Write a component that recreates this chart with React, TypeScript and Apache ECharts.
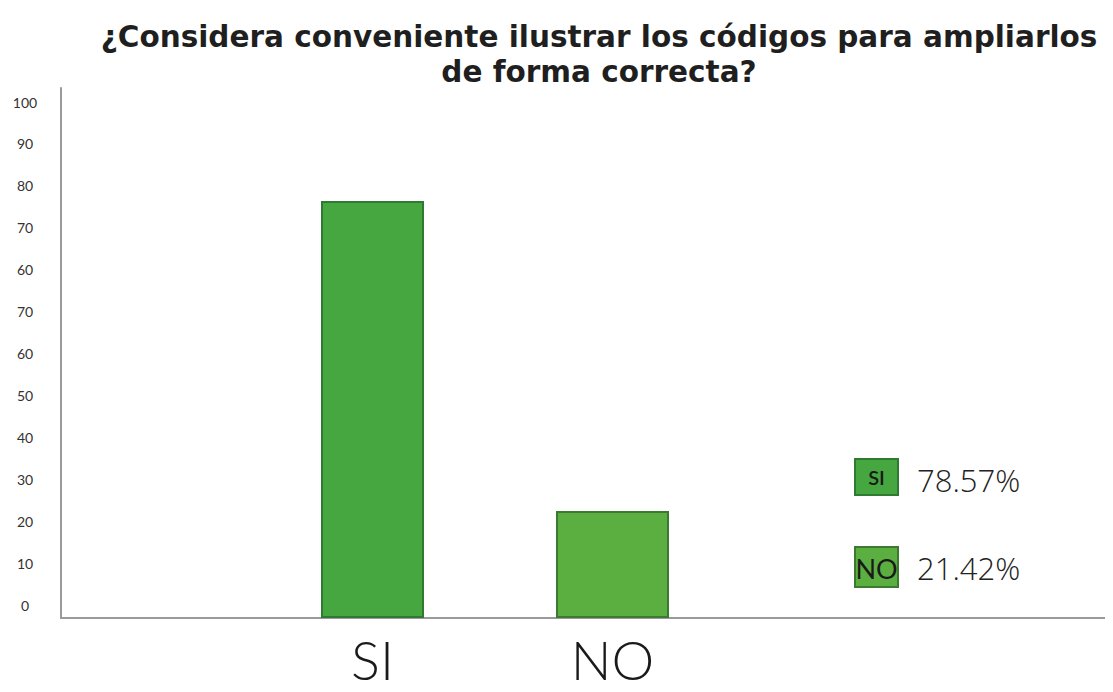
import React, { useEffect, useRef } from "react";
import * as echarts from "echarts";

const titleText = "¿Considera conveniente ilustrar los códigos para ampliarlos\nde forma correcta?";
const categories = ["SI", "NO"];
const barValues = [78.7, 20.2];
const tickLabels = ["0", "10", "20", "30", "40", "50", "60", "70", "60", "70", "80", "90", "100"];
const legendNames = ["SI", "NO"];
const legendPercents = ["78.57%", "21.42%"];

const FONT = "Lato, 'DejaVu Sans', sans-serif";
const TITLE_FONT = "'DejaVu Sans', sans-serif";
const PCT_FONT = "'Open Sans', Lato, sans-serif";
const fills = ["#46a640", "#5aaf40"];
const borders = ["#2f7a33", "#3b7a30"];

export default function App() {
  const ref = useRef<HTMLDivElement>(null);
  useEffect(() => {
    if (!ref.current) return;
    const chart = echarts.init(ref.current, undefined, { renderer: "svg" });
    const axisGray = "#9a9a9a";
    const option: any = {
      animation: false,
      backgroundColor: "#ffffff",
      title: {
        text: titleText,
        left: 594,
        top: 14,
        textAlign: "center",
        textStyle: {
          fontFamily: TITLE_FONT,
          fontSize: 29.5,
          fontWeight: "bold",
          color: "#1f1f1f",
          lineHeight: 35,
        },
      },
      grid: [
        { left: 61, right: 0, top: 88, bottom: 74 },
        { left: 252.5, width: 480, top: 88, bottom: 74 },
        { left: 62, width: 1, top: 102, bottom: 87 },
      ],
      xAxis: [
        {
          gridIndex: 0,
          type: "category",
          data: [""],
          axisLine: { show: true, lineStyle: { color: axisGray, width: 2 } },
          axisTick: { show: false },
          axisLabel: { show: false },
        },
        {
          gridIndex: 1,
          type: "category",
          data: categories,
          axisLine: { show: false },
          axisTick: { show: false },
          axisLabel: {
            show: true,
            fontFamily: FONT,
            fontSize: 54,
            lineHeight: 54,
            fontWeight: 300,
            color: "#1a1a1a",
            margin: 14,
          },
        },
        {
          gridIndex: 1,
          type: "category",
          data: categories,
          show: false,
        },
        {
          gridIndex: 2,
          type: "value",
          show: false,
        },
      ],
      yAxis: [
        {
          gridIndex: 0,
          type: "value",
          min: 0,
          max: 100,
          axisLine: { show: true, lineStyle: { color: axisGray, width: 2 } },
          axisTick: { show: false },
          axisLabel: { show: false },
          splitLine: { show: false },
        },
        {
          gridIndex: 1,
          type: "value",
          min: 0,
          max: 100,
          show: false,
          splitLine: { show: false },
        },
        {
          gridIndex: 2,
          type: "category",
          data: tickLabels,
          boundaryGap: false,
          axisLine: { show: false },
          axisTick: { show: false },
          splitLine: { show: false },
          axisLabel: {
            show: true,
            interval: 0,
            align: "center",
            margin: 37,
            fontFamily: FONT,
            fontSize: 14,
            color: "#333333",
          },
        },
      ],
      series: [
        {
          type: "bar",
          xAxisIndex: 1,
          yAxisIndex: 1,
          barWidth: 103,
          data: [barValues[0], "-"],
          itemStyle: { color: fills[0], borderColor: borders[0], borderWidth: 2 },
        },
        {
          type: "bar",
          xAxisIndex: 2,
          yAxisIndex: 1,
          barWidth: 113,
          data: ["-", barValues[1]],
          itemStyle: { color: fills[1], borderColor: borders[1], borderWidth: 2 },
        },
      ],
      graphic: [
        {
          type: "rect",
          shape: { x: 855, y: 459, width: 43, height: 36 },
          style: { fill: fills[0], stroke: borders[0], lineWidth: 2 },
        },
        {
          type: "text",
          x: 876.5,
          y: 477,
          style: {
            text: legendNames[0],
            font: `600 20px ${FONT}`,
            fill: "#1a1a1a",
            align: "center",
            verticalAlign: "middle",
          },
        },
        {
          type: "rect",
          shape: { x: 855, y: 547, width: 43, height: 40 },
          style: { fill: fills[1], stroke: borders[1], lineWidth: 2 },
        },
        {
          type: "text",
          x: 876.5,
          y: 568,
          style: {
            text: legendNames[1],
            font: `400 27px ${FONT}`,
            fill: "#1a1a1a",
            align: "center",
            verticalAlign: "middle",
          },
        },
        {
          type: "text",
          x: 917,
          y: 480,
          style: {
            text: legendPercents[0],
            font: `300 31px ${PCT_FONT}`,
            fill: "#222222",
            align: "left",
            verticalAlign: "middle",
          },
        },
        {
          type: "text",
          x: 917,
          y: 568,
          style: {
            text: legendPercents[1],
            font: `300 31px ${PCT_FONT}`,
            fill: "#222222",
            align: "left",
            verticalAlign: "middle",
          },
        },
      ],
    };
    chart.setOption(option);
    return () => chart.dispose();
  }, []);
  return <div ref={ref} style={{ width: 1113, height: 692, margin: -8 }} />;
}
